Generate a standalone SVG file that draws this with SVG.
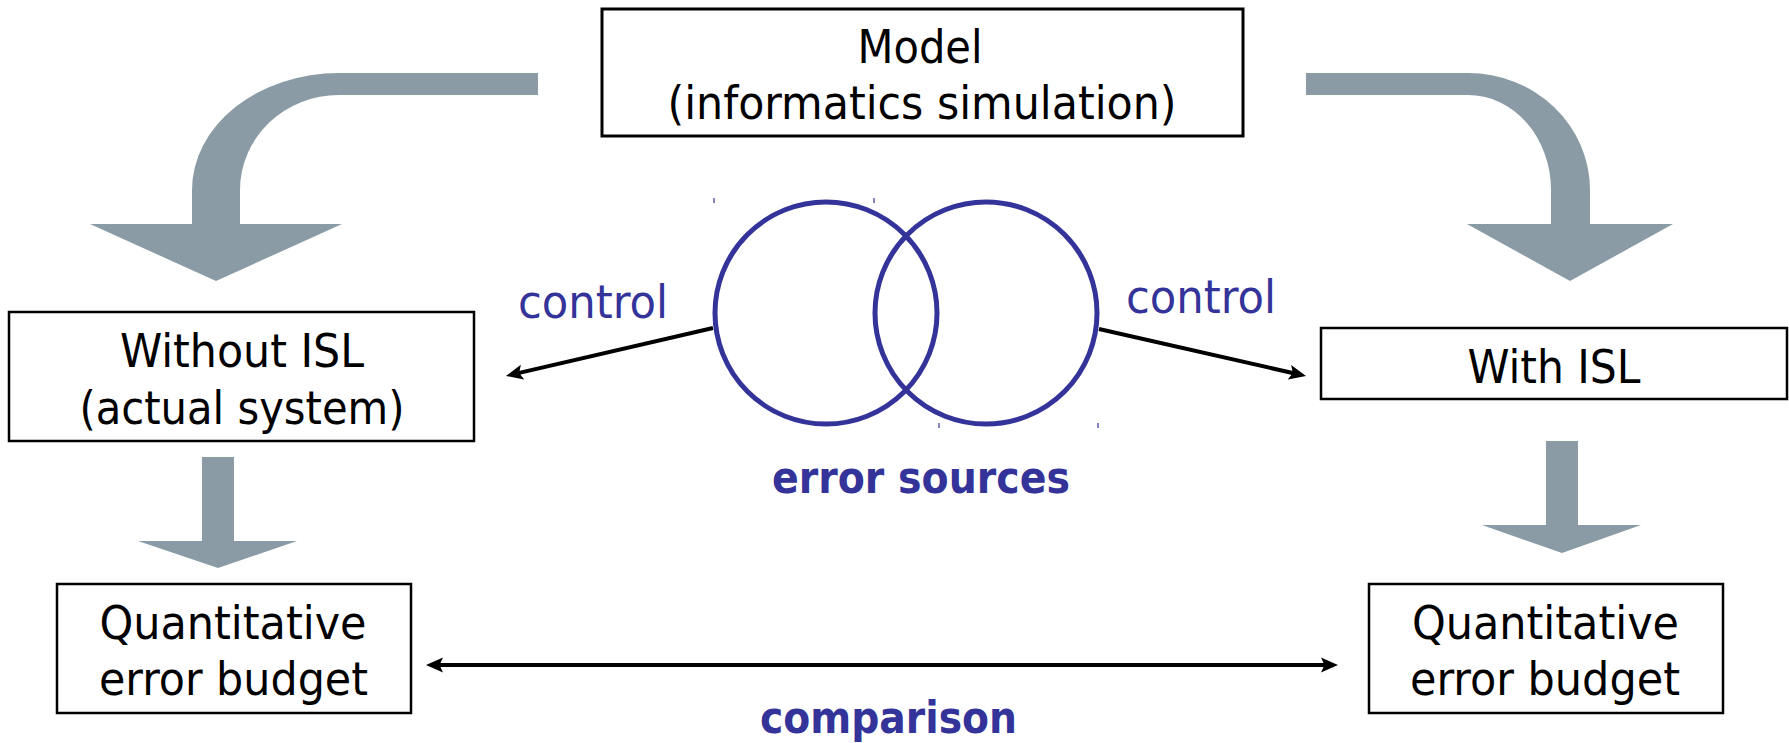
<svg xmlns="http://www.w3.org/2000/svg" width="1789" height="743" viewBox="0 0 1789 743">
  <style>
    .box { fill: #ffffff; stroke: #000000; stroke-width: 2.5; }
    .lbl { font-family: 'DejaVu Sans Condensed', 'DejaVu Sans', sans-serif; font-stretch: condensed; font-size: 47px; fill: #000000; text-anchor: middle; }
    .blue { font-family: 'DejaVu Sans Condensed', 'DejaVu Sans', sans-serif; font-stretch: condensed; font-size: 46px; fill: #333399; text-anchor: middle; }
    .bold { font-weight: bold; font-size: 44px; }
    .flow { fill: #8A9BA5; stroke: none; }
    .link { stroke: #000000; stroke-width: 4; fill: none; }
    .ring { fill: none; stroke: #333399; stroke-width: 5; }
    .tick { stroke: #333399; stroke-width: 1.2; }
  </style>
  <defs>
    <marker id="head" viewBox="0 -8 18 16" markerUnits="userSpaceOnUse" markerWidth="18" markerHeight="16" refX="10" refY="0" orient="auto-start-reverse">
      <path d="M0,-7.5 L17,0 L0,7.5 L3.5,0 Z" fill="#000000"/>
    </marker>
  </defs>

  <!-- wide grey flow arrows -->
  <g id="flow-arrows">
    <path class="flow" d="M538,73 L339,73 A147,117 0 0 0 192,190 L192,224 L90,224 L216,281 L342,224 L240,224 L240,190 A99,95 0 0 1 339,95 L538,95 Z"/>
    <path class="flow" d="M1306,73 L1468,73 A122,117 0 0 1 1590,190 L1590,224 L1673,224 L1570,281 L1467,224 L1551,224 L1551,190 A83,95 0 0 0 1468,95 L1306,95 Z"/>
    <path class="flow" d="M202,457 L234,457 L234,541 L297,541 L218,568 L138,541 L202,541 Z"/>
    <path class="flow" d="M1546,441 L1578,441 L1578,525 L1641,525 L1562,553 L1482,525 L1546,525 Z"/>
  </g>

  <!-- thin connectors -->
  <g id="connectors">
    <line class="link" x1="713" y1="328" x2="512.8" y2="374.4" marker-end="url(#head)"/>
    <line class="link" x1="1099" y1="329" x2="1299.2" y2="374.5" marker-end="url(#head)"/>
    <line class="link" x1="433" y1="665" x2="1331" y2="665" marker-start="url(#head)" marker-end="url(#head)"/>
  </g>

  <g id="model">
    <rect class="box" x="602" y="9" width="641" height="127" style="stroke-width:3"/>
    <text class="lbl" x="920" y="63" textLength="125" lengthAdjust="spacingAndGlyphs">Model</text>
    <text class="lbl" x="922" y="119" textLength="509" lengthAdjust="spacingAndGlyphs">(informatics simulation)</text>
  </g>

  <g id="without-isl">
    <rect class="box" x="9" y="312" width="465" height="129"/>
    <text class="lbl" x="242" y="367" textLength="244" lengthAdjust="spacingAndGlyphs">Without ISL</text>
    <text class="lbl" x="242" y="424" textLength="325" lengthAdjust="spacingAndGlyphs">(actual system)</text>
  </g>

  <g id="with-isl">
    <rect class="box" x="1321" y="328" width="466" height="71"/>
    <text class="lbl" x="1554" y="383" textLength="173" lengthAdjust="spacingAndGlyphs">With ISL</text>
  </g>

  <g id="budget-left">
    <rect class="box" x="57" y="584" width="354" height="129"/>
    <text class="lbl" x="233" y="639" textLength="267" lengthAdjust="spacingAndGlyphs">Quantitative</text>
    <text class="lbl" x="233.5" y="695" textLength="269" lengthAdjust="spacingAndGlyphs">error budget</text>
  </g>

  <g id="budget-right">
    <rect class="box" x="1369" y="584" width="354" height="129"/>
    <text class="lbl" x="1545.5" y="639" textLength="267" lengthAdjust="spacingAndGlyphs">Quantitative</text>
    <text class="lbl" x="1545" y="695" textLength="270" lengthAdjust="spacingAndGlyphs">error budget</text>
  </g>

  <g id="error-sources">
    <circle class="ring" cx="826" cy="313" r="111"/>
    <circle class="ring" cx="986" cy="313" r="111"/>
    <line class="tick" x1="714" y1="198" x2="714" y2="203"/>
    <line class="tick" x1="874" y1="198" x2="874" y2="203"/>
    <line class="tick" x1="939" y1="423" x2="939" y2="428"/>
    <line class="tick" x1="1098" y1="423" x2="1098" y2="428"/>
    <text class="blue bold" x="921" y="493" textLength="298" lengthAdjust="spacingAndGlyphs">error sources</text>
  </g>

  <g id="labels">
    <text class="blue" x="593" y="318" textLength="150" lengthAdjust="spacingAndGlyphs">control</text>
    <text class="blue" x="1201" y="313" textLength="150" lengthAdjust="spacingAndGlyphs">control</text>
    <text class="blue bold" x="888.5" y="733" textLength="257" lengthAdjust="spacingAndGlyphs">comparison</text>
  </g>
</svg>
